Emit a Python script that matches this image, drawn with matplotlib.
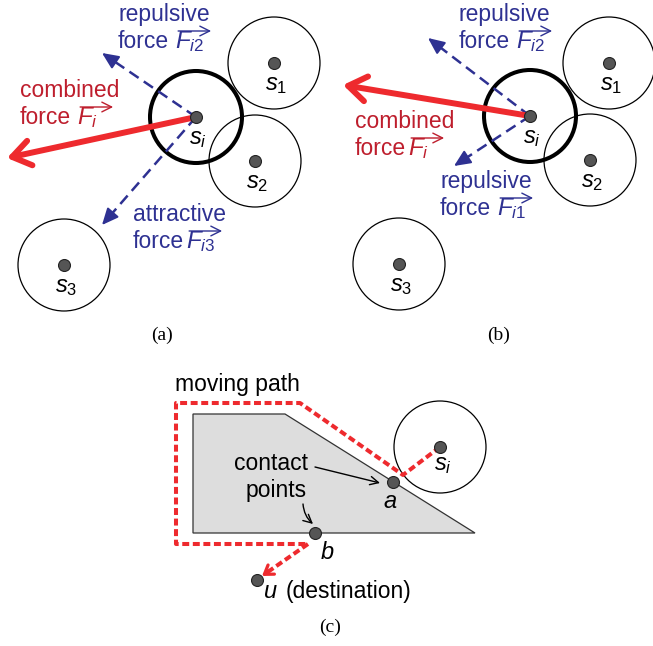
import matplotlib
matplotlib.use('Agg')
import matplotlib.pyplot as plt
from matplotlib.patches import Circle, Polygon
import numpy as np

plt.rcParams['font.family'] = ['Liberation Sans', 'DejaVu Sans']
plt.rcParams['mathtext.fontset'] = 'custom'
plt.rcParams['mathtext.rm'] = 'Liberation Sans'
plt.rcParams['mathtext.it'] = 'Liberation Sans:italic'
plt.rcParams['lines.scale_dashes'] = False

# sensor positions for panels (a) and (b), in pixel units (y points down)
node_names = ['i', '1', '2', '3']
nodes_a = [(196, 117), (274, 63), (255, 161), (64, 265)]
nodes_b = [(530, 116), (609, 63), (590, 160), (399, 264)]
radius = 46

# where each force vector ends
combined_a = (7, 158)
repulsive2_a = (102, 53)
attractive3_a = (102, 225)
combined_b = (343, 85)
repulsive2_b = (428, 38)
repulsive1_b = (454, 166)

# panel (c): obstacle, sensor, contact points and the detour around the obstacle
obstacle = [(193, 414), (285, 414), (475, 533), (193, 533)]
sensor_c = (440, 447)
point_a = (393, 482)
point_b = (315, 533)
point_u = (257, 580)
path_x = [440, 403, 300, 176, 176, 308]
path_y = [447, 475, 403, 403, 544, 544]
path_end = (262, 576)

BLUE = '#2E3192'
RED = '#EE2A2E'
DARKRED = '#BE1E2D'
FS = 16.5

fig = plt.figure(figsize=(6.53, 6.46), dpi=100)
ax = fig.add_axes([0, 0, 1, 1])
ax.set_xlim(0, 653)
ax.set_ylim(646, 0)
ax.axis('off')
renderer = fig.canvas.get_renderer()


def dot(p):
    ax.plot(p[0], p[1], 'o', ms=8.6, mfc='#555555', mec='#222222', mew=0.8, zorder=6)


def dashed_arrow(start, end, color, lw, dashes, head, hl):
    sx, sy = start
    ex, ey = end
    d = np.hypot(ex - sx, ey - sy)
    ux, uy = (ex - sx) / d, (ey - sy) / d
    ax.plot([sx, ex - ux * hl * 0.6], [sy, ey - uy * hl * 0.6], color=color,
            lw=lw, dashes=dashes, solid_capstyle='butt', zorder=3)
    ax.annotate('', xy=end, xytext=(ex - ux * hl, ey - uy * hl),
                arrowprops=dict(arrowstyle=head, color=color, lw=lw * 0.8,
                                shrinkA=0, shrinkB=0), zorder=4)


def sensors(nodes):
    for k, (name, p) in enumerate(zip(node_names, nodes)):
        thick = k == 0
        ax.add_patch(Circle(p, radius, fill=False, ec='black',
                            lw=2.9 if thick else 0.9, zorder=2 if thick else 1))
        dot(p)
        ax.text(p[0] + 2, p[1] + 27, '$s_{%s}$' % name, fontsize=17,
                ha='center', va='baseline', zorder=7)


def force_label(x, y, word, sub, color, gap=6):
    ax.text(x, y, word, fontsize=FS, color=color, va='baseline')
    y2 = y + 27
    t = ax.text(x, y2, 'force', fontsize=FS, color=color, va='baseline')
    bb = t.get_window_extent(renderer)
    fx = ax.transData.inverted().transform((bb.x1, bb.y0))[0] + gap
    ax.text(fx, y2, r'$F_{\mathit{%s}}$' % sub, fontsize=FS + 1, color=color,
            va='baseline')
    # vector arrow over the symbol
    ax.annotate('', xy=(fx + 36, y2 - 17), xytext=(fx + 3, y2 - 17),
                arrowprops=dict(arrowstyle='->,head_length=0.7,head_width=0.35',
                                color=color, lw=1.0, shrinkA=0, shrinkB=0))


blue_head = '-|>,head_length=1.0,head_width=0.45'
red_head = '->,head_length=1.3,head_width=0.9'

# (a) attractive force towards s3
sensors(nodes_a)
dashed_arrow(nodes_a[0], repulsive2_a, BLUE, 1.8, (8, 4.5), blue_head, 14)
dashed_arrow(nodes_a[0], attractive3_a, BLUE, 1.8, (8, 4.5), blue_head, 14)
ax.annotate('', xy=combined_a, xytext=nodes_a[0],
            arrowprops=dict(arrowstyle=red_head, color=RED, lw=4.3,
                            shrinkA=0, shrinkB=0), zorder=5)
force_label(118, 21, 'repulsive', 'i2', BLUE)
force_label(20, 97, 'combined', 'i', DARKRED)
force_label(133, 221, 'attractive', 'i3', BLUE, gap=2)
ax.text(162, 335, '(a)', fontsize=14, family='Liberation Serif', ha='center', va='center')

# (b) two repulsive forces
sensors(nodes_b)
dashed_arrow(nodes_b[0], repulsive2_b, BLUE, 1.8, (8, 4.5), blue_head, 14)
dashed_arrow(nodes_b[0], repulsive1_b, BLUE, 1.8, (8, 4.5), blue_head, 14)
ax.annotate('', xy=combined_b, xytext=nodes_b[0],
            arrowprops=dict(arrowstyle=red_head, color=RED, lw=4.3,
                            shrinkA=0, shrinkB=0), zorder=5)
force_label(459, 21, 'repulsive', 'i2', BLUE)
force_label(355, 128, 'combined', 'i', DARKRED, gap=2)
force_label(440, 188, 'repulsive', 'i1', BLUE)
ax.text(499, 335, '(b)', fontsize=14, family='Liberation Serif', ha='center', va='center')

# (c) moving along the obstacle boundary
ax.add_patch(Polygon(obstacle, closed=True, fc='#dddddd', ec='#333333', lw=0.9, zorder=1))
ax.add_patch(Circle(sensor_c, radius, fill=False, ec='black', lw=0.9, zorder=1))
ax.plot(path_x, path_y, color=RED, lw=2.9, dashes=(5, 2.6), solid_joinstyle='miter',
        zorder=3)
dashed_arrow((path_x[-1], path_y[-1]), path_end, RED, 2.9, (5, 2.6),
             '->,head_length=0.6,head_width=0.4', 9)
for p in (sensor_c, point_a, point_b, point_u):
    dot(p)
ax.text(sensor_c[0] + 3, sensor_c[1] + 23, '$s_i$', fontsize=17, ha='center', va='baseline')
ax.text(point_a[0] - 3, point_a[1] + 26, '$a$', fontsize=17, ha='center', va='baseline')
ax.text(point_b[0] + 12, point_b[1] + 26, '$b$', fontsize=17, ha='center', va='baseline')
ax.text(point_u[0] + 13, point_u[1] + 18, '$u$', fontsize=17, ha='center', va='baseline')
ax.text(286, 598, '(destination)', fontsize=FS, va='baseline')
ax.text(175, 391, 'moving path', fontsize=FS, va='baseline')
ax.text(271, 470, 'contact', fontsize=FS, ha='center', va='baseline')
ax.text(276, 497, 'points', fontsize=FS, ha='center', va='baseline')
ax.annotate('', xy=(380, 483), xytext=(315, 467),
            arrowprops=dict(arrowstyle='->,head_length=0.6,head_width=0.3', color='black',
                            lw=1.0, shrinkA=0, shrinkB=0))
ax.annotate('', xy=(313, 524), xytext=(303, 504),
            arrowprops=dict(arrowstyle='->,head_length=0.6,head_width=0.3', color='black',
                            lw=1.0, shrinkA=0, shrinkB=0, connectionstyle='arc3,rad=0.2'))
ax.text(330, 627, '(c)', fontsize=14, family='Liberation Serif', ha='center', va='center')

fig.savefig('out.png', dpi=100)
